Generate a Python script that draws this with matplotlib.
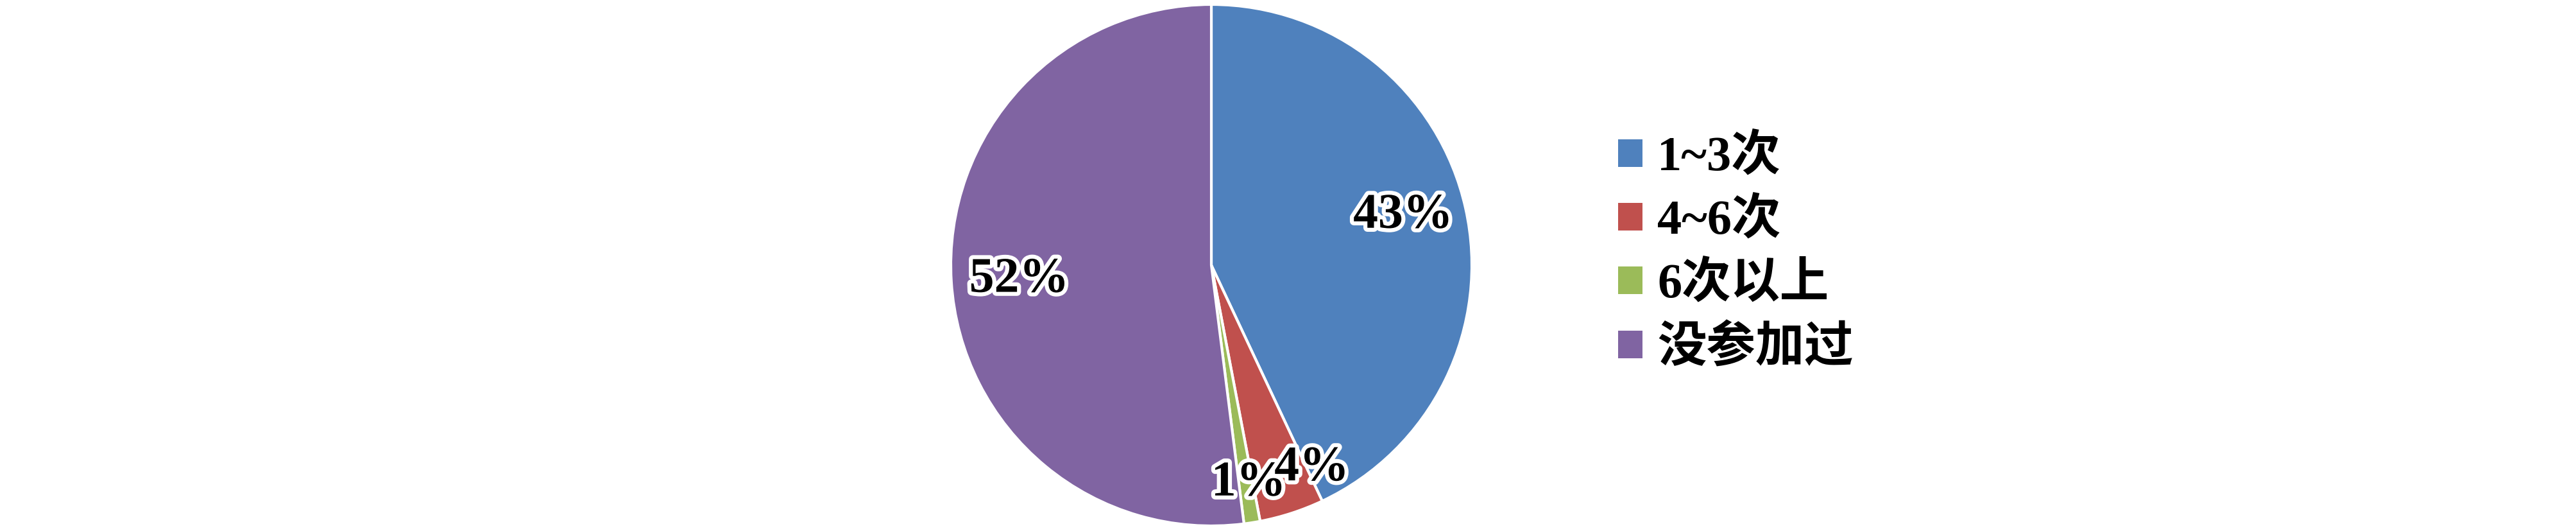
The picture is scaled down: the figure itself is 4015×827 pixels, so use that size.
import numpy as np
import matplotlib
matplotlib.use("Agg")
import matplotlib.pyplot as plt
import matplotlib.patheffects as pe

plt.rcParams['font.family'] = ['Liberation Serif', 'Noto Sans CJK SC', 'DejaVu Sans']

categories = ['1~3次', '4~6次', '6次以上', '没参加过']
values = [43, 4, 1, 52]
pct_labels = ['43%', '4%', '1%', '52%']
colors = ['#4F81BD', '#C0504D', '#9BBB59', '#8064A2']

W, H = 4016, 827
fig = plt.figure(figsize=(W / 100, H / 100), dpi=100)
cx, cy, r = 1888, 414, 406
ax = fig.add_axes([(cx - r) / W, (cy - r) / H, 2 * r / W, 2 * r / H])

wedges, _ = ax.pie(values, colors=colors, startangle=90, counterclock=False,
                   radius=1.0, wedgeprops=dict(edgecolor='white', linewidth=3))
ax.set_xlim(-1.0, 1.0)
ax.set_ylim(-1.0, 1.0)
ax.set_aspect('equal')
ax.axis('off')

# label placement (radius fraction, angle offset in degrees)
lab_r = [0.76, 0.87, 0.85, 0.74]
lab_off = [1.8, 8.3, 0.7, 0.8]
for w, txt, rr, off in zip(wedges, pct_labels, lab_r, lab_off):
    ang = np.deg2rad((w.theta1 + w.theta2) / 2 + off)
    ax.text(rr * np.cos(ang), rr * np.sin(ang), txt, ha='center', va='center',
            fontsize=56, fontweight='bold', color='black',
            family=['Liberation Serif', 'DejaVu Serif'],
            path_effects=[pe.withStroke(linewidth=9, foreground='white')])

leg = fig.legend(wedges, categories, loc='upper left',
                 bbox_to_anchor=(2522 / W, 1 - 209 / H),
                 frameon=False, prop=dict(size=55, weight='bold'),
                 handlelength=0.5, handleheight=0.5, handletextpad=0.3,
                 labelspacing=0.35, borderaxespad=0, borderpad=0)
for h in leg.legend_handles:
    h.set_edgecolor('none')

fig.savefig('out.png', dpi=100)
